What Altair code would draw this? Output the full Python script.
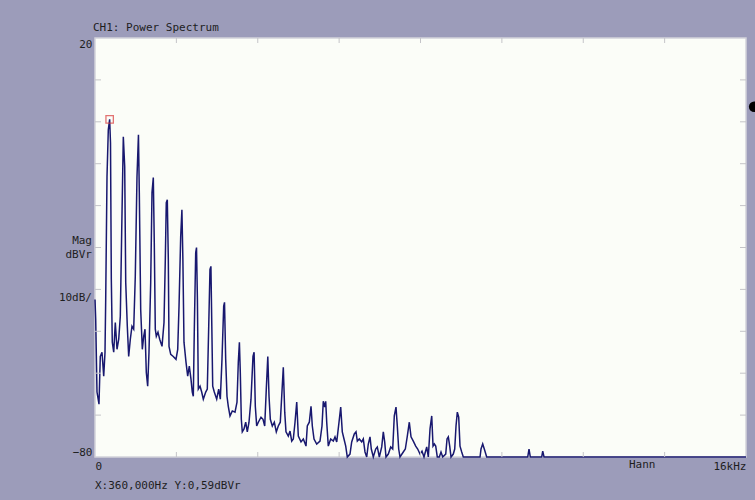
import altair as alt
import pandas as pd

# Power spectrum trace of channel 1: frequency (Hz) and magnitude (dBVr)
freq_hz = [
    0, 17, 49, 98, 130, 172, 214, 246, 263, 295, 327, 360, 381, 401, 425, 460,
    499, 541, 583, 622, 656, 696, 730, 755, 794, 828, 868, 909, 951, 990, 1032,
    1068, 1089, 1123, 1163, 1197, 1229, 1261, 1295, 1327, 1369, 1401, 1433, 1457,
    1482, 1507, 1548, 1590, 1647, 1696, 1728, 1752, 1777, 1802, 1819, 1861, 1924,
    1991, 2033, 2065, 2106, 2136, 2160, 2187, 2237, 2278, 2318, 2359, 2391, 2416,
    2441, 2475, 2495, 2517, 2539, 2581, 2622, 2662, 2721, 2760, 2795, 2826, 2849,
    2871, 2893, 2932, 2991, 3040, 3080, 3121, 3163, 3183, 3212, 3244, 3276, 3318,
    3375, 3441, 3490, 3522, 3549, 3571, 3596, 3620, 3662, 3704, 3743, 3785, 3834,
    3883, 3910, 3940, 3974, 4014, 4080, 4129, 4171, 4210, 4247, 4277, 4309, 4358,
    4407, 4456, 4505, 4554, 4589, 4628, 4663, 4694, 4751, 4793, 4835, 4874, 4916,
    4958, 4997, 5063, 5120, 5186, 5218, 5267, 5309, 5341, 5383, 5449, 5530, 5579,
    5611, 5646, 5670, 5695, 5734, 5793, 5857, 5899, 5941, 5997, 6039, 6078, 6120,
    6162, 6201, 6267, 6309, 6373, 6415, 6447, 6496, 6555, 6594, 6636, 6678, 6717,
    6759, 6791, 6840, 6899, 6938, 6988, 7047, 7086, 7120, 7152, 7209, 7268, 7317,
    7356, 7398, 7430, 7464, 7496, 7577, 7627, 7676, 7725, 7767, 7823, 7882, 7931,
    7988, 8037, 8086, 8153, 8192, 8234, 8276, 8308, 8340, 8374, 8413, 8462, 8504,
    8546, 8620, 8652, 8684, 8718, 8750, 8806, 8841, 8873, 8905, 8939, 8971, 9013,
    9052, 9463, 9487, 9529, 9568, 9627, 10635, 10667, 10699, 10979, 11004, 11036,
    16000,
]
mag_dbvr = [
    -42.4, -47.1, -64.5, -67.4, -56.0, -55.0, -60.7, -55.0, -42.4, -13.1, -1.9, 0.59,
    -5.0, -37.6, -52.6, -55.0, -47.9, -54.3, -51.9, -46.4, -26.4, -3.6, -10.7, -38.3,
    -48.8, -56.0, -51.9, -48.8, -49.5, -36.9, -13.1, -3.1, -16.9, -44.8, -54.3, -51.2,
    -49.5, -59.8, -63.1, -55.0, -38.3, -16.9, -13.3, -28.8, -49.5, -51.2, -50.2, -51.9,
    -53.6, -47.9, -32.9, -19.3, -18.6, -32.9, -53.6, -55.5, -56.0, -56.7, -54.3, -44.0,
    -27.4, -21.0, -32.9, -52.6, -57.4, -60.7, -58.3, -61.4, -64.5, -65.5, -49.5, -31.2,
    -30.0, -42.4, -63.8, -63.1, -64.5, -66.2, -64.5, -63.8, -48.8, -35.2, -34.5, -48.8,
    -63.1, -64.5, -66.2, -63.8, -66.2, -56.7, -44.0, -43.1, -56.7, -65.5, -67.9, -70.2,
    -69.0, -69.3, -66.9, -57.4, -52.6, -59.8, -71.0, -74.0, -73.3, -71.7, -74.0, -71.7,
    -66.2, -56.0, -55.0, -67.9, -72.6, -71.7, -70.5, -71.0, -72.6, -63.8, -56.0, -65.5,
    -71.0, -72.6, -71.7, -74.0, -72.6, -71.7, -65.5, -58.6, -69.3, -74.0, -75.0, -73.8,
    -76.2, -75.7, -71.7, -66.9, -75.0, -76.4, -75.7, -77.4, -72.6, -71.7, -67.9, -72.6,
    -75.7, -76.9, -76.2, -72.6, -66.7, -68.1, -66.7, -71.7, -77.4, -75.7, -76.2, -75.2,
    -76.4, -71.7, -68.1, -74.0, -75.7, -77.4, -80.0, -79.3, -76.4, -74.5, -74.0, -76.2,
    -75.7, -76.4, -75.7, -78.8, -80.0, -76.9, -75.2, -78.1, -80.0, -78.1, -77.6, -80.0,
    -77.6, -74.0, -76.4, -80.0, -79.3, -77.6, -78.1, -70.2, -68.1, -72.6, -78.1, -80.0,
    -78.8, -78.1, -75.0, -71.7, -75.2, -76.2, -77.4, -78.1, -79.3, -78.6, -80.0, -77.6,
    -80.0, -73.3, -70.2, -77.4, -76.9, -77.4, -80.0, -80.0, -78.8, -80.0, -79.3, -75.7,
    -75.2, -77.4, -80.0, -79.3, -78.1, -72.6, -69.3, -70.5, -77.4, -78.8, -80.0, -80.0,
    -78.1, -76.9, -78.1, -80.0, -80.0, -78.1, -80.0, -80.0, -78.6, -80.0, -80.0,
]

# Cursor readout and reference level indicator
marker_hz = 360
marker_db = 0.59
ref_level_db = 3.6

# Graticule tick positions
db_ticks = [10, 0, -10, -20, -30, -40, -50, -60, -70]
hz_ticks = [2000, 4000, 6000, 8000, 10000, 12000, 14000]

W, H = 651, 419
FONT = "DejaVu Sans Mono"
TXT = "#1e1e1e"
TICK = "#c4c4c8"

xs = alt.Scale(domain=[0, 16000], nice=False, zero=False)
ys = alt.Scale(domain=[-80, 20], nice=False, zero=False)

x_axis = alt.Axis(
    values=[0, 16000], labelExpr="datum.value == 0 ? '0' : '16kHz'",
    labelFlush=True, ticks=False, domain=False, grid=False, title=None,
    labelPadding=3, labelFont=FONT, labelFontSize=11, labelColor=TXT,
)
y_axis = alt.Axis(
    values=[20, -80], labelFlush=True, ticks=False, domain=False, grid=False,
    title=None, labelPadding=3, labelFont=FONT, labelFontSize=11, labelColor=TXT,
)
x_enc = alt.X("hz:Q", scale=xs, axis=x_axis)
y_enc = alt.Y("db:Q", scale=ys, axis=y_axis)

spec_df = pd.DataFrame({"hz": freq_hz, "db": mag_dbvr})
trace = alt.Chart(spec_df).mark_line(
    color="#18186f", strokeWidth=1.5, interpolate="linear"
).encode(x=x_enc, y=y_enc)

# Inner graticule ticks on the four edges
dbt = pd.DataFrame({"db": db_ticks})
hzt = pd.DataFrame({"hz": hz_ticks})
tick_l = alt.Chart(dbt).mark_rule(color=TICK, strokeWidth=1).encode(
    y=y_enc, x=alt.value(0), x2=alt.value(6))
tick_r = alt.Chart(dbt).mark_rule(color=TICK, strokeWidth=1).encode(
    y=y_enc, x=alt.value(W - 6), x2=alt.value(W))
tick_t = alt.Chart(hzt).mark_rule(color=TICK, strokeWidth=1).encode(
    x=x_enc, y=alt.value(0), y2=alt.value(5))
tick_b = alt.Chart(hzt).mark_rule(color=TICK, strokeWidth=1).encode(
    x=x_enc, y=alt.value(H - 5), y2=alt.value(H))

# Peak cursor
cur_df = pd.DataFrame({"hz": [marker_hz], "db": [marker_db]})
cursor = alt.Chart(cur_df).mark_point(
    shape="square", filled=False, color="#d83a3a", size=55, strokeWidth=1.3
).encode(x=x_enc, y=y_enc)

# Reference level indicator just right of the plot
ref_df = pd.DataFrame({"hz": [16200], "db": [ref_level_db]})
ref_mark = alt.Chart(ref_df).mark_point(
    shape="circle", filled=True, color="#000000", size=110, opacity=1
).encode(x=x_enc, y=y_enc)

def label(text, x, y, align="left"):
    return alt.Chart(pd.DataFrame({"t": [text]})).mark_text(
        font=FONT, fontSize=11, color=TXT, align=align, baseline="middle"
    ).encode(text="t:N", x=x, y=y)

readout = f"X:{marker_hz:.3f}Hz Y:{marker_db:.2f}dBVr".replace(".", ",")

title_t = label("CH1: Power Spectrum", alt.value(-2), alt.value(-10))
mag_t = label("Mag", alt.value(-3), alt.value(203), "right")
unit_t = label("dBVr", alt.value(-3), alt.value(217), "right")
div_t = label("10dB/", alt.value(-3), alt.value(260), "right")
read_t = label(readout, alt.value(0), alt.value(448))
hann_t = alt.Chart(pd.DataFrame({"t": ["Hann"], "hz": [13450]})).mark_text(
    font=FONT, fontSize=11, color=TXT, align="center", baseline="middle"
).encode(text="t:N", x=x_enc, y=alt.value(H + 8))

chart = alt.layer(
    trace, tick_l, tick_r, tick_t, tick_b, cursor, ref_mark,
    title_t, mag_t, unit_t, div_t, read_t, hann_t,
).properties(
    width=W, height=H,
    background="#9c9cba",
    padding={"left": 95, "top": 38, "right": 755 - 95 - W, "bottom": 500 - 38 - H},
    autosize=alt.AutoSizeParams(type="none"),
).configure_view(
    fill="#fbfdf8", stroke="#d2d2da", strokeWidth=1.5
)

chart.save("out.html", embed_options={"renderer": "svg", "actions": False})
